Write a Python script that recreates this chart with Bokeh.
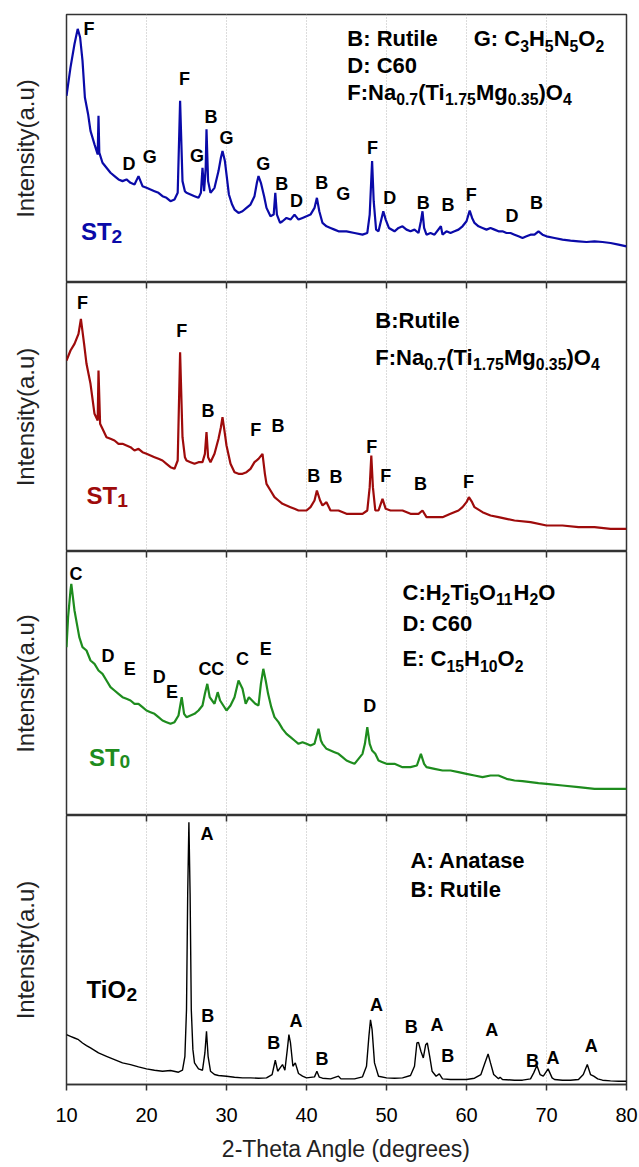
from bokeh.plotting import figure
from bokeh.layouts import column
from bokeh.models import Range1d, FixedTicker, Grid
from bokeh.core.properties import value
from bokeh.embed import file_html
from bokeh.resources import INLINE

FONT = "Liberation Sans"

# ---------------- data (arbitrary intensity units) ----------------
theta_st2 = [10.0, 10.5, 11.0, 11.4, 11.7, 12.0, 12.3, 12.7, 13.0, 13.5, 13.9, 14.0, 14.1, 14.5, 15.0, 15.5, 16.0, 16.5,
             17.0, 17.5, 18.0, 18.5, 19.0, 19.5, 20.0, 20.5, 21.0, 21.5, 22.0, 22.5, 23.0, 23.5, 23.9, 24.2, 24.5, 24.8,
             25.0, 25.5, 26.0, 26.5, 26.8, 27.0, 27.2, 27.4, 27.5, 27.7, 28.0, 28.5, 29.0, 29.3, 29.5, 29.8, 30.0, 30.3,
             30.7, 31.0, 31.5, 32.0, 32.5, 33.0, 33.5, 33.8, 34.0, 34.3, 34.7, 35.0, 35.5, 35.9, 36.1, 36.3, 36.7, 37.0,
             37.5, 38.0, 38.5, 39.0, 39.5, 40.0, 40.5, 41.0, 41.3, 41.6, 42.0, 42.5, 43.0, 43.5, 44.0, 45.0, 46.0, 47.0,
             47.6, 47.9, 48.2, 48.4, 48.7, 49.0, 49.3, 49.6, 49.9, 50.3, 51.0, 51.5, 52.0, 52.5, 53.0, 53.5, 54.0, 54.3,
             54.5, 54.7, 55.0, 55.5, 56.0, 56.8, 57.0, 57.5, 58.0, 58.5, 59.0, 59.5, 60.0, 60.4, 60.7, 61.0, 61.5, 62.0,
             62.5, 63.0, 63.5, 64.0, 64.5, 65.0, 65.5, 66.0, 66.5, 67.0, 67.5, 68.0, 68.5, 69.0, 69.5, 70.0, 71.0, 72.0,
             73.0, 74.0, 75.0, 76.0, 77.0, 78.0, 79.0, 80.0]
int_st2 = [558, 643, 713, 758, 733, 663, 553, 503, 453, 413, 383, 498, 388, 358, 343, 328, 318, 308,
           303, 308, 298, 293, 318, 288, 283, 278, 273, 268, 258, 253, 243, 248, 268, 543, 303, 273,
           268, 263, 258, 253, 268, 343, 273, 343, 458, 303, 268, 283, 333, 373, 393, 363, 323, 263,
           233, 218, 208, 213, 223, 233, 258, 298, 318, 298, 258, 223, 198, 203, 268, 203, 178, 183,
           193, 188, 203, 188, 193, 198, 203, 223, 253, 213, 178, 168, 163, 158, 153, 153, 148, 143,
           148, 203, 363, 243, 158, 153, 183, 213, 188, 163, 153, 163, 168, 158, 153, 158, 148, 183,
           213, 163, 143, 148, 143, 168, 143, 153, 148, 153, 158, 168, 183, 215, 193, 178, 168, 163,
           158, 163, 158, 153, 153, 148, 148, 143, 138, 133, 138, 143, 143, 153, 143, 138, 133, 128,
           125, 123, 121, 123, 121, 118, 113, 108]

theta_st1 = [10.0, 10.5, 11.0, 11.5, 11.8, 12.2, 12.5, 13.0, 13.5, 13.9, 14.0, 14.2, 14.5, 15.0, 15.5, 16.0, 16.5, 17.0,
             17.5, 18.0, 18.5, 19.0, 19.5, 20.0, 20.5, 21.0, 21.5, 22.0, 22.5, 23.0, 23.5, 23.9, 24.2, 24.5, 24.8, 25.0,
             25.5, 26.0, 26.5, 27.0, 27.3, 27.5, 27.7, 28.0, 28.5, 29.0, 29.3, 29.5, 29.8, 30.0, 30.5, 31.0, 31.5, 32.0,
             32.5, 33.0, 33.5, 34.0, 34.5, 34.8, 35.0, 35.5, 36.0, 36.5, 37.0, 37.5, 38.0, 38.5, 39.0, 39.5, 40.0, 40.5,
             41.0, 41.3, 41.7, 42.0, 42.5, 43.0, 44.0, 45.0, 46.0, 47.0, 47.6, 47.9, 48.1, 48.3, 48.6, 49.0, 49.5, 49.9,
             50.5, 51.0, 52.0, 53.0, 54.0, 54.5, 55.0, 56.0, 57.0, 58.0, 59.0, 59.5, 60.0, 60.3, 60.7, 61.0, 62.0, 63.0,
             64.0, 65.0, 66.0, 68.0, 70.0, 72.0, 74.0, 76.0, 78.0, 80.0]
int_st1 = [564, 594, 614, 644, 689, 614, 554, 494, 404, 384, 534, 374, 359, 334, 329, 324, 314, 314,
           309, 304, 294, 299, 289, 284, 279, 274, 269, 264, 254, 244, 239, 264, 589, 334, 274, 264,
           259, 254, 259, 259, 284, 349, 274, 259, 284, 329, 364, 394, 344, 309, 254, 229, 224, 224,
           229, 239, 259, 269, 284, 224, 194, 174, 154, 144, 134, 129, 124, 119, 114, 114, 114, 124,
           144, 174, 144, 129, 139, 114, 114, 104, 104, 104, 114, 184, 279, 184, 114, 114, 149, 119,
           114, 114, 114, 104, 104, 114, 94, 94, 94, 104, 114, 124, 139, 154, 139, 124, 109, 99,
           94, 89, 84, 79, 69, 69, 64, 64, 59, 59]

theta_st0 = [10.0, 10.2, 10.5, 10.6, 10.8, 11.0, 11.3, 11.6, 12.0, 12.5, 13.0, 13.5, 14.0, 14.5, 15.0, 15.5, 16.0, 16.5,
             17.0, 17.5, 18.0, 18.5, 19.0, 19.5, 20.0, 20.5, 21.0, 21.5, 22.0, 22.5, 23.0, 23.5, 24.0, 24.4, 24.7, 25.0,
             25.5, 26.0, 26.5, 27.0, 27.3, 27.6, 27.9, 28.2, 28.5, 28.9, 29.2, 29.6, 30.0, 30.5, 31.0, 31.5, 32.0, 32.4,
             32.8, 33.2, 33.6, 34.0, 34.3, 34.6, 34.9, 35.2, 35.6, 36.0, 36.5, 37.0, 37.5, 38.0, 38.5, 39.0, 39.5, 40.0,
             40.5, 41.0, 41.5, 41.8, 42.0, 42.5, 43.0, 43.5, 44.0, 44.5, 45.0, 45.5, 46.0, 46.5, 47.0, 47.3, 47.6, 47.9,
             48.2, 48.6, 49.0, 49.5, 50.0, 51.0, 52.0, 53.0, 53.8, 54.3, 54.7, 55.0, 56.0, 57.0, 58.0, 59.0, 60.0, 61.0,
             62.0, 63.0, 64.0, 65.0, 66.0, 67.0, 68.0, 69.0, 70.0, 72.0, 74.0, 76.0, 78.0, 80.0]
int_st0 = [505, 595, 675, 695, 655, 615, 575, 535, 505, 495, 465, 455, 435, 425, 405, 385, 375, 365,
           355, 350, 345, 335, 335, 325, 315, 310, 305, 295, 285, 280, 275, 280, 300, 355, 305, 295,
           300, 305, 315, 330, 365, 395, 355, 345, 335, 370, 345, 330, 315, 330, 355, 405, 380, 335,
           355, 345, 335, 330, 395, 440, 405, 365, 325, 295, 280, 260, 245, 235, 225, 215, 220, 215,
           210, 215, 260, 225, 215, 200, 195, 190, 185, 175, 165, 160, 155, 170, 185, 215, 265, 215,
           195, 185, 165, 160, 155, 155, 145, 145, 150, 185, 155, 145, 140, 135, 135, 130, 125, 120,
           115, 120, 120, 110, 105, 103, 100, 97, 95, 90, 85, 80, 80, 80]

theta_tio2 = [10.0, 10.5, 11.0, 11.5, 12.0, 12.5, 13.0, 13.5, 14.0, 14.5, 15.0, 16.0, 17.0, 18.0, 19.0, 20.0, 21.0, 22.0,
              23.0, 24.0, 24.5, 24.8, 25.0, 25.15, 25.3, 25.45, 25.6, 25.8, 26.0, 26.5, 27.0, 27.3, 27.5, 27.7, 28.0,
              28.5, 29.0, 30.0, 31.0, 32.0, 33.0, 34.0, 35.0, 35.7, 36.1, 36.4, 36.7, 37.0, 37.3, 37.6, 37.8, 38.0,
              38.3, 38.6, 39.0, 39.5, 40.0, 41.0, 41.3, 41.6, 42.0, 43.0, 44.0, 44.3, 45.0, 46.0, 47.0, 47.5, 47.8,
              48.0, 48.2, 48.5, 49.0, 50.0, 51.0, 52.0, 53.0, 53.5, 53.8, 54.0, 54.3, 54.6, 54.9, 55.1, 55.4, 55.7,
              56.2, 56.6, 57.0, 58.0, 59.0, 60.0, 61.0, 61.8, 62.3, 62.7, 63.0, 63.4, 64.0, 64.2, 64.5, 66.0, 67.0,
              68.0, 68.4, 68.8, 69.2, 69.6, 70.2, 70.7, 71.0, 72.0, 73.0, 74.0, 74.6, 75.1, 75.5, 75.9, 76.4, 77.0,
              78.0, 79.0, 80.0]
int_tio2 = [150, 145, 140, 135, 125, 117, 110, 103, 95, 90, 85, 75, 65, 60, 53, 47, 43, 40,
            42, 37, 43, 85, 225, 575, 790, 575, 225, 105, 65, 47, 43, 95, 160, 85, 40,
            30, 27, 25, 22, 20, 20, 19, 20, 30, 73, 40, 50, 60, 43, 105, 150, 125,
            55, 65, 33, 25, 20, 23, 40, 22, 19, 17, 25, 17, 17, 17, 23, 55, 145,
            195, 165, 65, 25, 20, 19, 20, 27, 55, 125, 127, 100, 80, 120, 125, 85, 40,
            25, 32, 17, 15, 15, 15, 19, 30, 65, 92, 65, 30, 17, 22, 15, 13, 13,
            17, 35, 57, 30, 25, 47, 20, 15, 13, 13, 15, 30, 60, 30, 25, 17, 13,
            11, 10, 10]

# peak labels: letter, 2-theta position, height
lab_st2 = ["F", "F", "B", "G", "D", "G", "G", "G", "B", "D", "B", "G", "F", "D", "B", "B", "F", "D", "B"]
lab_st2_x = [12.8, 24.75, 28.05, 30.0, 17.8, 20.4, 26.3, 34.6, 36.9, 38.75, 41.9, 44.6, 48.25, 50.4, 54.6, 57.7, 60.6, 65.7, 68.75]
lab_st2_y = [758, 608, 495, 433, 355, 375, 378, 355, 295, 243, 298, 265, 401, 253, 238, 233, 261, 198, 238]

lab_st1 = ["F", "F", "B", "F", "B", "B", "B", "F", "F", "B", "F"]
lab_st1_x = [12.0, 24.4, 27.7, 33.65, 36.45, 40.9, 43.7, 48.15, 49.9, 54.25, 60.25]
lab_st1_y = [736, 654, 412, 357, 369, 219, 214, 306, 219, 194, 199]

lab_st0 = ["C", "D", "E", "D", "E", "C", "C", "C", "E", "D"]
lab_st0_x = [11.2, 15.2, 17.9, 21.6, 23.2, 27.3, 28.9, 32.0, 34.9, 47.9]
lab_st0_y = [725, 480, 440, 415, 370, 440, 440, 470, 500, 330]

lab_tio2 = ["A", "B", "B", "A", "B", "A", "B", "A", "B", "A", "B", "A", "A"]
lab_tio2_x = [27.55, 27.65, 35.9, 38.7, 41.95, 48.75, 53.1, 56.3, 57.65, 63.15, 68.25, 70.8, 75.6]
lab_tio2_y = [753, 205, 125, 190, 77, 240, 172, 180, 87, 163, 70, 80, 115]

# legend texts (text, subscript flag)
leg_st2 = [[("B: Rutile", 0)],
           [("D: C60", 0)],
           [("F:Na", 0), ("0.7", 1), ("(Ti", 0), ("1.75", 1), ("Mg", 0), ("0.35", 1), (")O", 0), ("4", 1)]]
leg_st2_g = [("G: C", 0), ("3", 1), ("H", 0), ("5", 1), ("N", 0), ("5", 1), ("O", 0), ("2", 1)]
leg_st1 = [[("B:Rutile", 0)],
           [("F:Na", 0), ("0.7", 1), ("(Ti", 0), ("1.75", 1), ("Mg", 0), ("0.35", 1), (")O", 0), ("4", 1)]]
leg_st0 = [[("C:H", 0), ("2", 1), ("Ti", 0), ("5", 1), ("O", 0), ("11", 1), ("H", 0), ("2", 1), ("O", 0)],
           [("D: C60", 0)],
           [("E: C", 0), ("15", 1), ("H", 0), ("10", 1), ("O", 0), ("2", 1)]]
leg_tio2 = [[("A: Anatase", 0)], [("B: Rutile", 0)]]

x_ticks = [10, 20, 30, 40, 50, 60, 70, 80]

# ---------------- helpers ----------------
BOLD_W = {' ': 278, '(': 333, ')': 333, '.': 278, ':': 333, 'A': 722, 'B': 722, 'C': 722, 'D': 722, 'E': 667,
          'F': 611, 'G': 778, 'H': 722, 'M': 833, 'N': 722, 'O': 778, 'R': 722, 'S': 667, 'T': 611, 'a': 556,
          'e': 556, 'g': 611, 'i': 278, 'l': 278, 'n': 611, 's': 556, 't': 333, 'u': 611}


def tw(s, size):
    return sum(BOLD_W.get(c, 556) for c in s) * size / 1000.0


def rich(p, x, y, parts, size, color="black", sub_scale=0.72, sub_drop=0.32):
    cur = 0.0
    for t, sub in parts:
        fs = size * sub_scale if sub else size
        p.text(x=[x], y=[y], text=[t], x_offset=[cur], y_offset=[sub_drop * size if sub else 0.0],
               text_font=value(FONT), text_font_style="bold", text_font_size=f"{fs:.1f}px",
               text_align="left", text_baseline="middle", text_color=color)
        cur += tw(t, fs)


def panel(ymin, ymax, frame_h, top_border, bottom_axis, top_ticks):
    p = figure(frame_width=560, frame_height=frame_h, x_range=Range1d(10, 80), y_range=Range1d(ymin, ymax),
               output_backend="svg", toolbar_location=None,
               x_axis_location="below" if bottom_axis else None,
               min_border_left=66, min_border_right=13, min_border_top=top_border, min_border_bottom=0)
    p.grid.visible = False
    p.add_layout(Grid(dimension=0, ticker=FixedTicker(ticks=x_ticks[1:-1]), grid_line_color="#b8b8b8",
                      grid_line_dash="1 2", grid_line_width=1))
    p.outline_line_color = "#333333"
    p.outline_line_width = 1.5
    p.background_fill_color = "white"
    p.border_fill_color = "white"
    ya = p.yaxis[0]
    ya.ticker = FixedTicker(ticks=[])
    ya.major_tick_out = 0
    ya.minor_tick_out = 0
    ya.axis_line_color = None
    ya.axis_label = "Intensity(a.u)"
    ya.axis_label_text_font = FONT
    ya.axis_label_text_font_style = "normal"
    ya.axis_label_text_font_size = "24px"
    ya.axis_label_text_color = "#222222"
    ya.axis_label_standoff = 28
    if bottom_axis:
        xa = p.xaxis[0]
        xa.ticker = FixedTicker(ticks=x_ticks)
        xa.major_tick_out = 6
        xa.major_tick_in = 0
        xa.minor_tick_out = 0
        xa.major_tick_line_width = 1.5
        xa.major_tick_line_color = "#333333"
        xa.axis_line_width = 1.5
        xa.axis_line_color = "#333333"
        xa.major_label_text_font = FONT
        xa.major_label_text_font_size = "20px"
        xa.major_label_text_color = "black"
        xa.major_label_standoff = 17
        xa.axis_label = "2-Theta Angle (degrees)"
        xa.axis_label_text_font = FONT
        xa.axis_label_text_font_style = "normal"
        xa.axis_label_text_font_size = "23px"
        xa.axis_label_text_color = "#222222"
        xa.axis_label_standoff = 11
    if top_ticks:
        tick_len = 6 * (ymax - ymin) / frame_h
        tx = x_ticks[1:-1]
        p.segment(x0=tx, x1=tx, y0=[ymax] * len(tx), y1=[ymax - tick_len] * len(tx),
                  line_color="#333333", line_width=1.5)
    return p


def labels(p, lx, ly, lt, size=18):
    p.text(x=lx, y=ly, text=lt, text_font=value(FONT), text_font_style="bold", text_font_size=f"{size}px",
           text_align="center", text_baseline="middle", text_color="black")


# ---------------- panel 1: ST2 ----------------
p1 = panel(0, 801, 268, 14, False, False)
p1.line(theta_st2, int_st2, line_color="#0a0aa8", line_width=2.2)
labels(p1, lab_st2_x, lab_st2_y, lab_st2)
for parts, yy in zip(leg_st2, [728, 648, 568]):
    rich(p1, 45.1, yy, parts, 22)
rich(p1, 60.9, 728, leg_st2_g, 22)
rich(p1, 11.8, 153, [("ST", 0), ("2", 1)], 24, color="#0a0aa8", sub_scale=0.8, sub_drop=0.2)

# ---------------- panel 2: ST1 ----------------
p2 = panel(-9, 798, 269, 0, False, True)
p2.line(theta_st1, int_st1, line_color="#9e0b0b", line_width=2.2)
labels(p2, lab_st1_x, lab_st1_y, lab_st1)
for parts, yy in zip(leg_st1, [684, 574]):
    rich(p2, 48.6, yy, parts, 22)
rich(p2, 12.5, 159, [("ST", 0), ("1", 1)], 24, color="#9e0b0b", sub_scale=0.8, sub_drop=0.2)

# ---------------- panel 3: ST0 ----------------
p3 = panel(0, 792, 264, 0, False, True)
p3.line(theta_st0, int_st0, line_color="#1e8c1e", line_width=2.2)
labels(p3, lab_st0_x, lab_st0_y, lab_st0)
for parts, yy in zip(leg_st0, [670, 575, 470]):
    rich(p3, 52.0, yy, parts, 22)
rich(p3, 12.8, 175, [("ST", 0), ("0", 1)], 24, color="#1e8c1e", sub_scale=0.8, sub_drop=0.2)

# ---------------- panel 4: TiO2 ----------------
p4 = panel(0, 810, 269, 0, True, True)
p4.line(theta_tio2, int_tio2, line_color="black", line_width=1.4)
labels(p4, lab_tio2_x, lab_tio2_y, lab_tio2)
for parts, yy in zip(leg_tio2, [675, 587]):
    rich(p4, 53.0, yy, parts, 22)
rich(p4, 12.5, 285, [("TiO", 0), ("2", 1)], 24, color="black", sub_scale=0.8, sub_drop=0.2)

layout = column(p1, p2, p3, p4, spacing=0)
open("out.html", "w").write(file_html(layout, INLINE))
